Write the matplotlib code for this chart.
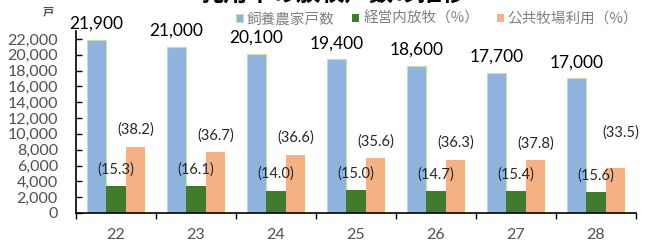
import numpy as np
from matplotlib import pyplot as plt

W, H, DPI = 653, 242, 100
CJK = ["Noto Sans CJK JP", "DejaVu Sans"]
NUM = ["Lato", "DejaVu Sans"]

years = ["22", "23", "24", "25", "26", "27", "28"]
farms = [21900, 21000, 20100, 19400, 18600, 17700, 17000]
own_pct = [15.3, 16.1, 14.0, 15.0, 14.7, 15.4, 15.6]
pub_pct = [38.2, 36.7, 36.6, 35.6, 36.3, 37.8, 33.5]
# bar heights (farms grazing, 戸)
own_farms = [3350, 3380, 2810, 2910, 2730, 2730, 2650]
pub_farms = [8370, 7710, 7360, 6910, 6750, 6690, 5700]

series_names = ["飼養農家戸数", "経営内放牧（%）", "公共牧場利用（%）"]
tick_values = np.arange(0, 22001, 2000)

BLUE = "#8FB3DE"
GREEN = "#3F7D2C"
ORANGE = "#F5B084"
GRAY = "#505050"

fig = plt.figure(figsize=(W / DPI, H / DPI), dpi=DPI)
ax = fig.add_axes([76 / W, 1 - 213 / H, 560 / W, (213 - 31) / H])

x = np.arange(len(years))
bw = 0.245
b1 = ax.bar(x - bw, farms, bw, color=BLUE, edgecolor="#C5E0B0", linewidth=0.8, label=series_names[0])
b2 = ax.bar(x, own_farms, bw, color=GREEN, label=series_names[1])
b3 = ax.bar(x + bw, pub_farms, bw, color=ORANGE, label=series_names[2])

for xi, v in zip(x, farms):
    ax.annotate(f"{v:,}", (xi - bw, v), xytext=(0, 6), textcoords="offset points",
                ha="center", va="bottom", fontsize=12.5, family=NUM, color="black")

for xi, v, p in zip(x, own_farms, own_pct):
    ax.annotate(f"({p:.1f})", (xi, v), xytext=(0, 7), textcoords="offset points",
                ha="center", va="bottom", fontsize=10.5, family=NUM, color="#262626")

pub_offsets = [(0, 7), (0, 7), (0, 7), (0, 7), (0, 7), (0, 7), (4, 20)]
for xi, v, p, off in zip(x, pub_farms, pub_pct, pub_offsets):
    ax.annotate(f"({p:.1f})", (xi + bw, v), xytext=off, textcoords="offset points",
                ha="center", va="bottom", fontsize=10.5, family=NUM, color="#262626")

ax.set_xlim(-0.5, len(years) - 0.5)
ax.set_ylim(0, 23000)
ax.set_yticks(tick_values)
ax.set_yticklabels([f"{t:,}" for t in tick_values], family=NUM, fontsize=11.5, color=GRAY)
ax.tick_params(axis="y", direction="in", length=4, width=1, pad=13)

ax.set_xticks(x)
ax.set_xticklabels(years, family=NUM, fontsize=11.5, color=GRAY)
ax.set_xticks(np.arange(-0.5, len(years)), minor=True)
ax.tick_params(axis="x", which="major", length=0, pad=11)
ax.tick_params(axis="x", which="minor", direction="out", length=4, width=1)

for s in ["top", "right"]:
    ax.spines[s].set_visible(False)
for s in ["left", "bottom"]:
    ax.spines[s].set_color("black")
    ax.spines[s].set_linewidth(1.2)

leg = fig.legend(handles=[b1, b2, b3], loc="center left", bbox_to_anchor=(236 / W, 1 - 19 / H),
                 ncol=3, frameon=False, prop={"family": CJK, "size": 10.5},
                 handlelength=0.5, handleheight=0.5, handletextpad=0.25, columnspacing=1.2,
                 borderpad=0, borderaxespad=0)
for t in leg.get_texts():
    t.set_color("#808080")

fig.text(333 / W, 1 + 6 / H, "乳用牛の放牧戸数の推移", ha="center", va="center",
         family=CJK, fontsize=17.5, fontweight="bold", color="black")
fig.text(48 / W, 1 - 12 / H, "戸", ha="center", va="center", family=CJK, fontsize=8,
         fontweight="bold", color=GRAY)

fig.savefig("out.png", dpi=DPI)
